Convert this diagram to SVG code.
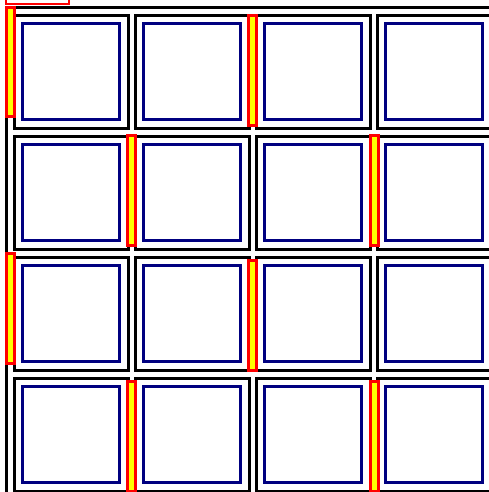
<svg xmlns="http://www.w3.org/2000/svg" width="489" height="492" viewBox="0 0 489 492">
<style>
.cell{fill:none;stroke:#000;stroke-width:3}
.inner{fill:none;stroke:#000080;stroke-width:3}
.bar{fill:#ffff00;stroke:#ff0000;stroke-width:3}
</style>
<rect x="0" y="0" width="489" height="492" fill="#fff"/>
<rect x="6" y="-15" width="63" height="19" fill="none" stroke="#ff0000" stroke-width="2"/>
<rect id="frame" x="6.5" y="7.5" width="500" height="500" class="cell"/>
<g id="cells">
<g id="c00"><rect class="cell" x="14.5" y="15.5" width="114" height="113"/><rect class="inner" x="22.5" y="23.5" width="97" height="96"/></g>
<g id="c01"><rect class="cell" x="135.5" y="15.5" width="114" height="113"/><rect class="inner" x="143.5" y="23.5" width="97" height="96"/></g>
<g id="c02"><rect class="cell" x="256.5" y="15.5" width="114" height="113"/><rect class="inner" x="264.5" y="23.5" width="97" height="96"/></g>
<g id="c03"><rect class="cell" x="377.5" y="15.5" width="114" height="113"/><rect class="inner" x="385.5" y="23.5" width="97" height="96"/></g>
<g id="c10"><rect class="cell" x="14.5" y="136.5" width="114" height="113"/><rect class="inner" x="22.5" y="144.5" width="97" height="96"/></g>
<g id="c11"><rect class="cell" x="135.5" y="136.5" width="114" height="113"/><rect class="inner" x="143.5" y="144.5" width="97" height="96"/></g>
<g id="c12"><rect class="cell" x="256.5" y="136.5" width="114" height="113"/><rect class="inner" x="264.5" y="144.5" width="97" height="96"/></g>
<g id="c13"><rect class="cell" x="377.5" y="136.5" width="114" height="113"/><rect class="inner" x="385.5" y="144.5" width="97" height="96"/></g>
<g id="c20"><rect class="cell" x="14.5" y="257.5" width="114" height="113"/><rect class="inner" x="22.5" y="265.5" width="97" height="96"/></g>
<g id="c21"><rect class="cell" x="135.5" y="257.5" width="114" height="113"/><rect class="inner" x="143.5" y="265.5" width="97" height="96"/></g>
<g id="c22"><rect class="cell" x="256.5" y="257.5" width="114" height="113"/><rect class="inner" x="264.5" y="265.5" width="97" height="96"/></g>
<g id="c23"><rect class="cell" x="377.5" y="257.5" width="114" height="113"/><rect class="inner" x="385.5" y="265.5" width="97" height="96"/></g>
<g id="c30"><rect class="cell" x="14.5" y="378.5" width="114" height="113"/><rect class="inner" x="22.5" y="386.5" width="97" height="96"/></g>
<g id="c31"><rect class="cell" x="135.5" y="378.5" width="114" height="113"/><rect class="inner" x="143.5" y="386.5" width="97" height="96"/></g>
<g id="c32"><rect class="cell" x="256.5" y="378.5" width="114" height="113"/><rect class="inner" x="264.5" y="386.5" width="97" height="96"/></g>
<g id="c33"><rect class="cell" x="377.5" y="378.5" width="114" height="113"/><rect class="inner" x="385.5" y="386.5" width="97" height="96"/></g>
</g>
<g id="bars">
<rect class="bar" x="6.5" y="7.5" width="8" height="109"/>
<rect class="bar" x="248.5" y="15.5" width="8" height="110"/>
<rect class="bar" x="127.5" y="135.5" width="8" height="110"/>
<rect class="bar" x="370.5" y="135.5" width="8" height="110"/>
<rect class="bar" x="6.5" y="253.5" width="8" height="110"/>
<rect class="bar" x="248.5" y="260.5" width="8" height="110"/>
<rect class="bar" x="127.5" y="381.5" width="8" height="110"/>
<rect class="bar" x="370.5" y="381.5" width="8" height="110"/>
</g>
</svg>
